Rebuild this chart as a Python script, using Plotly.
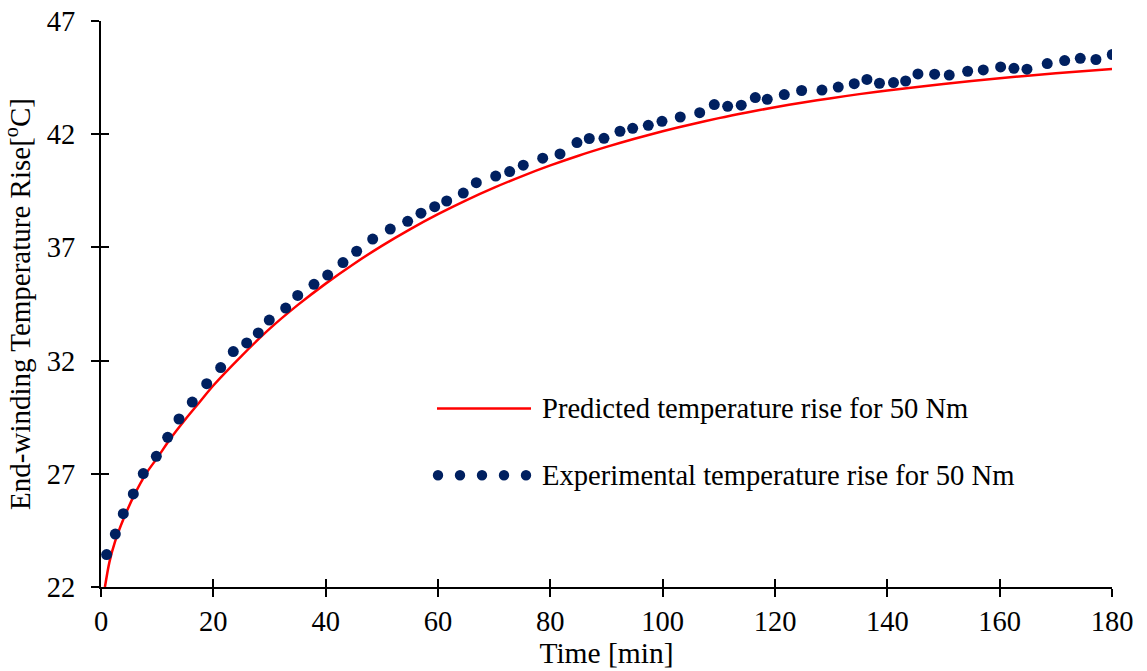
import plotly.graph_objects as go

# ---- data ----
time_exp = [1.0, 2.55, 3.97, 5.75, 7.53, 9.85, 11.87, 13.89, 16.25, 18.82,
            21.31, 23.55, 25.94, 28.0, 29.96, 32.88, 35.02, 37.92, 40.36, 43.08,
            45.52, 48.37, 51.5, 54.6, 56.97, 59.41, 61.55, 64.5, 66.82, 70.27,
            72.76, 75.18, 78.64, 81.72, 84.74, 86.93, 89.55, 92.4, 94.66, 97.44,
            99.88, 103.13, 106.59, 109.19, 111.57, 113.99, 116.49, 118.62, 121.65, 124.74,
            128.36, 131.26, 134.11, 136.37, 138.6, 141.1, 143.26, 145.45, 148.42, 151.02,
            154.3, 157.08, 160.17, 162.54, 164.86, 168.47, 171.57, 174.35, 177.14, 180.05]
temp_exp = [23.43, 24.34, 25.24, 26.11, 27.01, 27.77, 28.61, 29.42, 30.17, 30.98,
            31.69, 32.40, 32.78, 33.22, 33.79, 34.32, 34.88, 35.37, 35.78, 36.33,
            36.83, 37.37, 37.81, 38.15, 38.51, 38.80, 39.05, 39.40, 39.86, 40.15,
            40.35, 40.63, 40.94, 41.13, 41.63, 41.81, 41.82, 42.13, 42.26, 42.39,
            42.57, 42.76, 42.95, 43.31, 43.23, 43.28, 43.62, 43.54, 43.75, 43.93,
            43.95, 44.08, 44.23, 44.42, 44.25, 44.28, 44.35, 44.66, 44.65, 44.61,
            44.78, 44.84, 44.97, 44.91, 44.87, 45.12, 45.25, 45.35, 45.30, 45.52]

time_pred = [0.7, 1.5, 2.5, 4, 6, 8, 10, 12.5, 15, 17.5, 20, 25, 30, 35, 40, 45, 50,
             55, 60, 65, 70, 75, 80, 85, 90, 95, 100, 105, 110, 115, 120, 125, 130,
             135, 140, 150, 160, 170, 180]
temp_pred = [22.0, 23.1, 24.0, 25.0, 26.1, 27.0, 27.7, 28.6, 29.4, 30.15, 30.9, 32.2,
             33.4, 34.45, 35.4, 36.27, 37.07, 37.8, 38.47, 39.08, 39.64, 40.15, 40.62,
             41.05, 41.44, 41.8, 42.13, 42.43, 42.71, 42.96, 43.19, 43.4, 43.59, 43.77,
             43.93, 44.22, 44.47, 44.69, 44.88]

x_ticks = [0, 20, 40, 60, 80, 100, 120, 140, 160, 180]
y_ticks = [22, 27, 32, 37, 42, 47]

pred_name = "Predicted temperature rise for 50 Nm"
exp_name = "Experimental temperature rise for 50 Nm"

FONT = "Liberation Serif"
RED = "#FF0000"
NAVY = "#002060"

fig = go.Figure()
fig.add_trace(go.Scatter(x=time_pred, y=temp_pred, mode="lines", name=pred_name,
                         line=dict(color=RED, width=2.5, shape="spline", smoothing=0.8),
                         showlegend=False))
fig.add_trace(go.Scatter(x=time_exp, y=temp_exp, mode="markers", name=exp_name,
                         marker=dict(color=NAVY, size=11, line=dict(width=0)),
                         showlegend=False))
# invisible helper trace so the inner-tick overlay axes exist
fig.add_trace(go.Scatter(x=time_exp, y=temp_exp, mode="markers", xaxis="x2", yaxis="y2",
                         marker=dict(opacity=0), hoverinfo="skip", showlegend=False))

axis_common = dict(showgrid=False, zeroline=False, showline=True, linecolor="black",
                   linewidth=2, tickcolor="black", tickwidth=2, ticklen=8)

fig.update_layout(
    width=1147, height=671,
    margin=dict(l=101, r=35, t=21, b=84, autoexpand=False),
    paper_bgcolor="white", plot_bgcolor="white",
    font=dict(family=FONT, size=28, color="black"),
    xaxis=dict(range=[0, 180], tickvals=x_ticks, ticks="outside",
               tickfont=dict(family=FONT, size=28.5),
               title=dict(text="Time [min]", font=dict(family=FONT, size=29.5), standoff=1),
               ticklabelstandoff=0, **axis_common),
    yaxis=dict(range=[22, 47], tickvals=y_ticks, ticks="outside",
               tickfont=dict(family=FONT, size=28.5),
               title=dict(text="End-winding Temperature Rise[<sup>o</sup>C]",
                          font=dict(family=FONT, size=29), standoff=8),
               ticklabelstandoff=10, **axis_common),
    xaxis2=dict(range=[0, 180], tickvals=x_ticks, ticks="inside", overlaying="x",
                showticklabels=False, **axis_common),
    yaxis2=dict(range=[22, 47], tickvals=y_ticks, ticks="inside", overlaying="y",
                showticklabels=False, **axis_common),
)

# ---- custom legend (line sample, five-dot sample, labels) ----
W, H = 1011.0, 566.0
def px_x(p):
    return (p - 101) / W
def px_y(p):
    return (586.7 - p) / H

fig.add_shape(type="line", xref="paper", yref="paper",
              x0=px_x(437), x1=px_x(531), y0=px_y(408.3), y1=px_y(408.3),
              line=dict(color=RED, width=2.5))
for cx in [438, 460, 482, 504, 526]:
    r = 5.2
    fig.add_shape(type="circle", xref="paper", yref="paper",
                  x0=px_x(cx - r), x1=px_x(cx + r), y0=px_y(475 + r), y1=px_y(475 - r),
                  fillcolor=NAVY, line=dict(width=0))
fig.add_annotation(xref="paper", yref="paper", x=px_x(540), y=px_y(408),
                   text=pred_name, showarrow=False, xanchor="left", yanchor="middle",
                   font=dict(family=FONT, size=28.6))
fig.add_annotation(xref="paper", yref="paper", x=px_x(540), y=px_y(475),
                   text=exp_name, showarrow=False, xanchor="left", yanchor="middle",
                   font=dict(family=FONT, size=28.6))

fig.write_html("out.html")
